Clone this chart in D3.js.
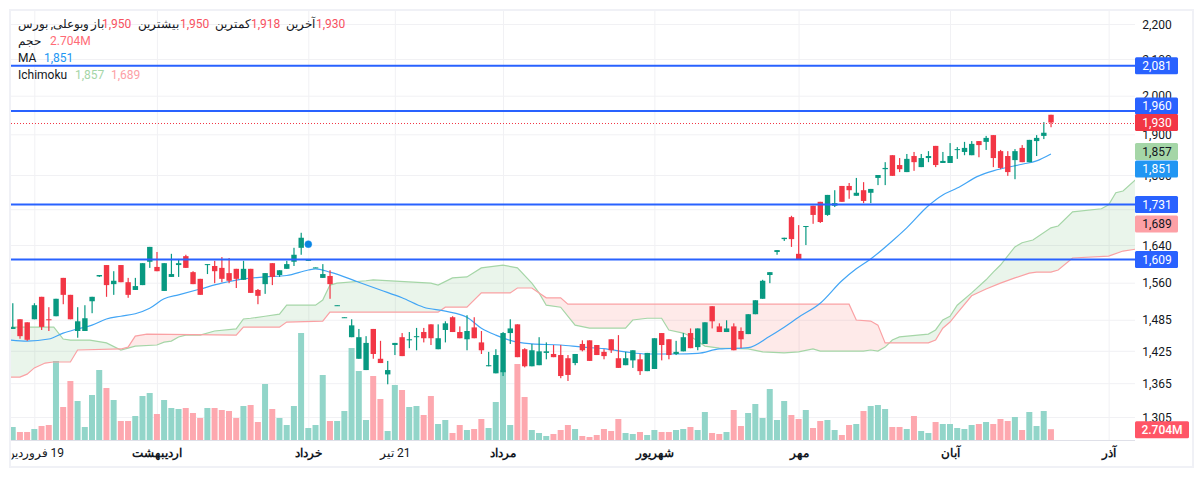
<!DOCTYPE html>
<html>
<head>
<meta charset="utf-8">
<script src="https://cdn.jsdelivr.net/npm/d3@7"></script>
<style>
  body { margin: 0; background: #fff; }
  text { font-family: Roboto, "Noto Sans", sans-serif; }
</style>
</head>
<body>
<svg id="chart" width="1203" height="478"></svg>
<script>
// candles, one per session
var opens = [1467,1486,1480,1486,1531,1486,1492,1570,1535,1463,1463,1522,1573,1597,1557,1597,1561,1545,1555,1604,1593,1543,1572,1597,1616,1582,1568,
  1597,1595,1591,1580,1589,1566,1589,1545,1557,1601,1576,1589,1604,1634,1607,1591,1570,1574,1513,1489,1451,1410,1389,1467,1410,1381,1436,
  1451,1445,1451,1461,1476,1428,1465,1490,1461,1447,1470,1441,1396,1383,1385,1459,1476,1428,1396,1398,1421,1419,1417,1411,1402,1438,1445,1436,
  1423,1447,1411,1398,1407,1409,1387,1391,1459,1447,1419,1424,1459,1432,1438,1512,1472,1461,1472,1463,1457,1496,1527,1576,1625,1653,1702,1621,
  1680,1728,1737,1707,1728,1774,1774,1751,1764,1758,1793,1814,1848,1824,1807,1846,1819,1841,1871,1829,1829,1861,1856,1848,1883,1881,1898,1858,1846,1836,1866,1831,1883,1896,1950];
var closes = [1470.5,1453,1446,1514,1471,1484,1527,1535,1486,1482,1488,1531,1576,1555,1564,1561,1535,1553,1601,1636,1584,1601,1578,1601,1591,1557,1535,
  1599,1584,1568,1564,1568,1589,1539,1533,1580,1572,1586,1599,1619,1656,1608,1592,1578,1557,1514,1490,1474,1451,1440,1419,1402,1389,1440,
  1415,1447,1453,1449,1449,1449,1478,1461,1449,1463,1449,1426,1398,1417,1459,1468,1413,1396,1426,1424,1424,1413,1378,1380,1419,1426,1406,1417,
  1415,1426,1393,1411,1426,1387,1421,1449,1436,1417,1423,1451,1430,1468,1480,1482,1461,1468,1426,1447,1496,1524,1564,1582,1629,1656,1653,1608,
  1682,1707,1691,1753,1734,1737,1764,1758,1739,1767,1800,1817,1798,1814,1839,1831,1841,1846,1824,1834,1846,1863,1866,1876,1873,1891,1841,1817,1807,1858,1831,1886,1891,1904,1930];
var highs = [1518,1486,1480,1518,1531,1510,1527,1570,1535,1510,1514,1531,1576,1597,1584,1597,1570,1570,1601,1636,1625,1601,1621,1610,1619,1584,1568,
  1599,1606,1614,1612,1589,1606,1589,1547,1580,1601,1586,1606,1634,1667,1608,1592,1599,1586,1514,1490,1486,1467,1453,1467,1444,1406,1440,
  1459,1461,1469,1469,1476,1476,1482,1492,1472,1494,1490,1463,1423,1428,1461,1486,1476,1430,1438,1451,1441,1436,1436,1417,1419,1445,1445,1436,
  1428,1447,1455,1423,1426,1419,1421,1449,1459,1447,1444,1459,1468,1468,1480,1512,1478,1484,1478,1470,1496,1524,1566,1582,1629,1656,1705,1684,
  1682,1728,1737,1753,1764,1774,1781,1793,1783,1767,1800,1831,1848,1841,1851,1856,1851,1858,1871,1856,1878,1868,1881,1883,1883,1896,1898,1861,1858,1863,1873,1886,1898,1931,1950];
var lows = [1467,1448,1444,1486,1465,1463,1492,1516,1486,1450,1463,1498,1572,1531,1535,1561,1529,1545,1555,1591,1584,1543,1572,1572,1591,1557,1535,
  1578,1559,1561,1559,1549,1566,1539,1516,1537,1555,1572,1589,1595,1619,1607,1591,1570,1527,1513,1489,1451,1410,1389,1410,1402,1363,1417,
  1415,1430,1426,1441,1436,1428,1441,1461,1449,1426,1449,1419,1396,1383,1378,1438,1413,1394,1396,1398,1409,1413,1374,1369,1398,1424,1406,1417,
  1409,1421,1393,1398,1393,1380,1387,1391,1407,1409,1417,1424,1430,1426,1438,1468,1461,1461,1426,1430,1457,1496,1527,1559,1619,1649,1636,1608,
  1640,1687,1689,1705,1725,1737,1744,1751,1734,1734,1776,1776,1798,1807,1807,1810,1819,1831,1819,1829,1829,1839,1848,1848,1843,1861,1819,1814,1798,1790,1831,1831,1846,1888,1918];
// volume in millions
var volumes = [3.25,2,2,2.75,3.5,3.75,19.75,8.25,14.75,9.75,3.25,11.25,17.5,13,10,4.75,4.75,6,11,11.75,6.5,10,8,7.75,8,6.75,5.5,
  8,8,7.5,7.25,5.5,8.5,8.75,4.5,14,7.75,5.5,3.75,8.5,26.75,3,3.75,16.25,4.75,4.75,7.25,23,17.25,5,16,10.25,2.25,13.75,
  12.5,8.25,8.5,6.25,11,4,5,1.75,3.75,2.5,2.75,5.25,3,9.5,17.5,3.75,19,10.75,2.5,1.75,1,1.5,2.5,3.75,2.75,1,0.75,1.25,
  2.75,2.25,5.25,1.75,1.5,2,1.25,2.5,2,2,2.5,2.75,3.25,2.5,7,1.75,1.5,2,7.5,3.5,6.75,9,5.5,12.75,5,9.75,6.25,5.25,
  7.5,3,4.75,5,2.5,1.25,3.75,4,7.25,8.5,8.75,7.75,3.25,3.25,2.75,6,2.25,1.75,4.5,4,4,3,2.75,3.75,4,4.5,4,5.25,4.75,5.75,2.5,7,3.5,7.25,2.704];

// moving average, read at the bends of the curve
var maIdx = [-0.4,2,5,7,9,11,13,15,17,19,21,23,26,29,32,35,38,41,42,44,48,51,54,57,60,63,65,67,70,72,76,79,82,85,88,92,95,98,102,105,107,109,112,115,117,119,122,124,127,129,131,134,136,140,142,144];
var maVals = [1445.5,1443.5,1447.5,1459,1467,1474.5,1486.5,1492,1497,1508,1527,1535,1547,1559,1568,1572,1575,1586.5,1589,1582,1561,1545,1529,1510,1502,1490,1468.5,1455,1441.5,1438,1436,1432,1429,1423,1419,1419,1420,1428.5,1431,1453,1470.5,1490,1518,1564,1589,1610,1649,1678,1728,1753,1769,1798,1810,1826,1834,1851];

// ichimoku span lines, they run on past the last candle
var spanAIdx = [-0.4,5.7,7,8,10.7,13,15,16,17,20,21,22,23,24,26,28,31,32,33,35,37,38,42,43,44,45,49,50,58,59,61,63,65,68,70,72,73,74,76,78,80,85,86,88,90,91,93,94,96,98,102,104,107,109,111,112,118,119,120,121,122,123,127,128,129,130,131,133,135,136,137,139,140,141.5,144,145,147,151,152,153,154,155.7];
var spanAVals = [1470.5,1470.5,1447.5,1445.5,1445.5,1440,1426.5,1430,1434,1436,1441.5,1443.5,1451.5,1455,1455,1463,1467,1486.5,1488,1492,1496,1514,1514,1524.5,1555,1559,1564,1566,1559,1555,1570,1572,1591,1597,1591,1559,1539,1514,1510,1474.5,1468.5,1468.5,1484.5,1488,1488,1465,1459,1453,1434,1430,1428.5,1423,1421,1423,1428.5,1424.5,1424.5,1426.5,1424.5,1432,1445.5,1451.5,1457,1465,1484.5,1492,1514,1539,1566,1582,1597,1636,1645,1651,1678,1682,1714,1721,1730,1758,1762,1788];
var spanBIdx = [-0.4,1,2,3,4.5,5.6,8,9,15,16,17,18.6,31,32,37,38,43,44,59,60,63,65,69,70,72,74,76,77,116,117,119,120,121,127,128,129,130,131,133,135,137,139,141,142,144,145,147,152,154,155.7];
var spanBVals = [1376,1376,1381.5,1393,1402,1404,1404,1426.5,1428.5,1432,1453,1457,1455,1470.5,1470.5,1480.5,1482.5,1500,1500,1510,1510,1539,1539,1549,1549,1529,1529,1516,1516,1484.5,1482.5,1474.5,1440,1440,1445.5,1468.5,1480.5,1498,1533,1547,1559,1570,1580,1582,1582,1586.5,1612,1616,1627,1631];

var levels = [2081, 1960, 1731, 1609];
var lastPrice = 1930;
var dotIdx = 41, dotPrice = 1642;

var priceTicks = [2200, 2100, 2000, 1900, 1800, 1720, 1640, 1560, 1485, 1425, 1365, 1305];
var hiddenTick = 1720;  // gridline only, the 1,731 badge covers its label
var timeTicks = [3, 20, 41, 53, 68, 89, 109, 130, 152];
var timeLabels = ["19 فروردین", "اردیبهشت", "خرداد", "21 تیر", "مرداد", "شهریور", "مهر", "آبان", "آذر"];
var monthTicks = [20, 41, 68, 89, 109, 130, 152];

var green = "#089981", red = "#F23645", blue = "#2962FF";
var left = 11, right = 1135, top_ = 11, bottom = 440;

var svg = d3.select("#chart");

// frame
svg.append("rect").attr("x", 10).attr("y", 10).attr("width", 1183).attr("height", 457)
  .attr("fill", "#fff").attr("stroke", "#f0f1f6").attr("stroke-width", 2);

var x = d3.scaleLinear().domain([0, 152]).range([12.7, 12.7 + 152 * 7.21]);
var y = d3.scaleLog().domain([1305, 2200]).range([417, 24]);
var vol = d3.scaleLinear().domain([0, 27]).range([bottom, bottom - 108]);

svg.append("clipPath").attr("id", "plot").append("rect")
  .attr("x", left).attr("y", top_).attr("width", right - left).attr("height", bottom - top_);

// grid and axes
var gridY = svg.append("g").attr("transform", "translate(" + left + ",0)")
  .call(d3.axisRight(y).tickValues(priceTicks).tickSize(right - left)
    .tickFormat(function (d) { return d === hiddenTick ? "" : d3.format(",")(d); }));
gridY.select(".domain").remove();
gridY.selectAll("line").attr("stroke", "#f1f1f4");
gridY.selectAll("text").attr("x", 1157 - left).attr("text-anchor", "middle")
  .attr("font-size", 12).attr("fill", "#131722").attr("dy", "0.35em");

var gridX = svg.append("g").attr("transform", "translate(0," + bottom + ")")
  .call(d3.axisBottom(x).tickValues(timeTicks).tickSize(-(bottom - top_)).tickPadding(7)
    .tickFormat(function (d, i) { return timeLabels[i]; }));
gridX.select(".domain").remove();
gridX.selectAll("line").attr("stroke", "#f1f1f4");
gridX.selectAll("text").attr("font-size", 12).attr("fill", "#131722").attr("direction", "rtl")
  .attr("font-weight", function (d) { return monthTicks.indexOf(d) >= 0 ? 700 : 400; })
  .attr("y", 8).attr("dy", "0.71em");

// first label is cut by the frame, same as the source
svg.append("clipPath").attr("id", "firstLabel").append("rect")
  .attr("x", left - x(timeTicks[0])).attr("y", 0).attr("width", 120).attr("height", 30);
gridX.select(".tick text").attr("clip-path", "url(#firstLabel)");

svg.append("line").attr("x1", left).attr("x2", right).attr("y1", bottom + 0.5).attr("y2", bottom + 0.5)
  .attr("stroke", "#dfe0e8");

var plot = svg.append("g").attr("clip-path", "url(#plot)");

// volume
plot.selectAll(".vol").data(volumes).enter().append("rect")
  .attr("class", "vol")
  .attr("x", function (d, i) { return x(i) - 3; })
  .attr("width", 6)
  .attr("y", function (d) { return vol(d); })
  .attr("height", function (d) { return bottom - vol(d); })
  .attr("fill", function (d, i) { return closes[i] >= opens[i] ? "#92d5c9" : "#fda8af"; });

// ichimoku cloud, each colour clipped by the other span
var spanA = spanAIdx.map(function (d, i) { return [d, spanAVals[i]]; });
var spanB = spanBIdx.map(function (d, i) { return [d, spanBVals[i]]; });
var px = function (d) { return x(d[0]); }, py = function (d) { return y(d[1]); };
var line = d3.line().x(px).y(py);
var below = d3.area().x(px).y0(bottom).y1(py);
var above = d3.area().x(px).y0(top_).y1(py);

svg.append("clipPath").attr("id", "aboveB").append("path").attr("d", above(spanB));
svg.append("clipPath").attr("id", "aboveA").append("path").attr("d", above(spanA));

plot.append("g").attr("clip-path", "url(#aboveB)").append("path")
  .attr("d", below(spanA)).attr("fill", "#43a047").attr("fill-opacity", 0.11);
plot.append("g").attr("clip-path", "url(#aboveA)").append("path")
  .attr("d", below(spanB)).attr("fill", "#f44336").attr("fill-opacity", 0.11);
plot.append("path").attr("d", line(spanA)).attr("fill", "none").attr("stroke", "#A5D6A7").attr("stroke-width", 1.2);
plot.append("path").attr("d", line(spanB)).attr("fill", "none").attr("stroke", "#FAA1A4").attr("stroke-width", 1.2);

// moving average
var maLine = d3.line().x(function (d) { return x(d); })
  .y(function (d, i) { return y(maVals[i]); }).curve(d3.curveMonotoneX);
plot.append("path").attr("d", maLine(maIdx)).attr("fill", "none").attr("stroke", "#42A5F5").attr("stroke-width", 1.2);

// candles
var candle = plot.selectAll(".candle").data(opens).enter().append("g").attr("class", "candle")
  .attr("fill", function (d, i) { return closes[i] >= d ? green : red; });
candle.append("rect")
  .attr("x", function (d, i) { return x(i) - 0.5; }).attr("width", 1.2)
  .attr("y", function (d, i) { return y(highs[i]); })
  .attr("height", function (d, i) { return y(lows[i]) - y(highs[i]); });
candle.append("rect")
  .attr("x", function (d, i) { return x(i) - 2.6; }).attr("width", 5.4)
  .attr("y", function (d, i) { return y(Math.max(d, closes[i])); })
  .attr("height", function (d, i) { return Math.max(1, Math.abs(y(d) - y(closes[i]))); });

// drawn levels
var lastY = Math.round(y(lastPrice)) + 0.5;
plot.append("line").attr("x1", left).attr("x2", right).attr("y1", lastY).attr("y2", lastY)
  .attr("stroke", red).attr("stroke-dasharray", "1,2");
plot.selectAll(".level").data(levels).enter().append("line").attr("class", "level")
  .attr("x1", left).attr("x2", right)
  .attr("y1", function (d) { return y(d); }).attr("y2", function (d) { return y(d); })
  .attr("stroke", blue).attr("stroke-width", 2);

plot.append("circle").attr("cx", x(dotIdx)).attr("cy", y(dotPrice)).attr("r", 3.5)
  .attr("fill", "#0a84e0").attr("stroke", "#2196F3").attr("stroke-opacity", 0.5);

// price badges
function badge(value, shift, bg, fg) {
  var cy = y(value) + shift;
  svg.append("rect").attr("x", right).attr("y", cy - 8.5).attr("width", 43).attr("height", 17)
    .attr("rx", 1.5).attr("fill", bg);
  svg.append("text").attr("x", right + 22).attr("y", cy).attr("dy", "0.35em").attr("text-anchor", "middle")
    .attr("font-size", 12).attr("fill", fg).text(d3.format(",")(value));
}
badge(2081, 0, blue, "#fff");
badge(1960, -5, blue, "#fff");
badge(1930, 0, red, "#fff");
badge(1857, 0, "#A5D6A7", "#131722");
badge(1851, 15, "#2196F3", "#fff");
badge(1731, 0, blue, "#fff");
badge(1689, 1, "#FDA0A6", "#131722");
badge(1609, 0, blue, "#fff");

svg.append("rect").attr("x", right).attr("y", vol(2.704) - 8).attr("width", 54).attr("height", 17)
  .attr("rx", 1.5).attr("fill", "#FF5566");
svg.append("text").attr("x", right + 27).attr("y", vol(2.704) + 0.5).attr("dy", "0.35em").attr("text-anchor", "middle")
  .attr("font-size", 12).attr("font-weight", 500).attr("fill", "#fff").text("2.704M");

// legend
var dark = "#131722", pink = "#F7525F", softRed = "#FF6B76";
function label(tx, ty, str, color) {
  return svg.append("text").attr("x", tx).attr("y", ty).attr("dy", "0.35em")
    .attr("font-size", 12).attr("fill", color).text(str);
}
label(18, 24, "وبوعلی, بورس", dark).attr("textLength", 71).attr("lengthAdjust", "spacingAndGlyphs");
label(91, 24, "باز", dark);
label(102, 24, "1,950", pink);
label(138, 24, "بیشترین", dark);
label(180, 24, "1,950", pink);
label(215, 24, "کمترین", dark);
label(251, 24, "1,918", pink);
label(286, 24, "آخرین", dark);
label(316, 24, "1,930", pink);
label(18, 41, "حجم", dark);
label(50, 41, "2.704M", softRed);
label(18, 58, "MA", dark);
label(44, 58, "1,851", "#2196F3");
label(18, 75, "Ichimoku", dark);
label(75, 75, "1,857", "#A5D6A7");
label(111, 75, "1,689", "#FDA0A6");
</script>
</body>
</html>
